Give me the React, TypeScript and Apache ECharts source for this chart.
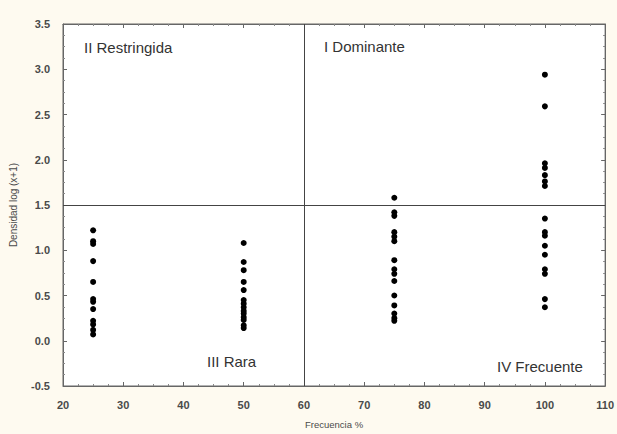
import React, { useEffect, useRef } from "react";
import * as echarts from "echarts";

const frec25: number[] = [1.22, 1.1, 1.07, 0.88, 0.65, 0.46, 0.43, 0.35, 0.22, 0.18, 0.12, 0.07];
const frec50: number[] = [1.08, 0.87, 0.78, 0.65, 0.56, 0.45, 0.41, 0.37, 0.33, 0.3, 0.26, 0.23, 0.17, 0.14];
const frec75: number[] = [1.58, 1.42, 1.38, 1.2, 1.15, 1.1, 0.89, 0.79, 0.74, 0.66, 0.5, 0.39, 0.3, 0.25, 0.22];
const frec100: number[] = [2.94, 2.59, 1.96, 1.91, 1.83, 1.76, 1.71, 1.35, 1.2, 1.16, 1.05, 0.95, 0.79, 0.74, 0.46, 0.37];
const frecuencias: number[] = [25, 50, 75, 100];
const quadrantLabels: string[] = ["II Restringida", "I Dominante", "III Rara", "IV Frecuente"];
const xTitle = "Frecuencia %";
const yTitle = "Densidad log (x+1)";
const xSplit = 60;
const ySplit = 1.5;

export default function App() {
  const ref = useRef<HTMLDivElement>(null);
  useEffect(() => {
    document.body.style.margin = "0";
    const chart = echarts.init(ref.current!, undefined, { renderer: "svg" });
    const groups = [frec25, frec50, frec75, frec100];
    const points: number[][] = [];
    groups.forEach((g, i) => g.forEach((v) => points.push([frecuencias[i], v])));
    const labelColor = "#4a4a4a";
    const font = "Liberation Sans, Arial, sans-serif";
    const axisCommon = {
      axisLine: { show: true, onZero: false, lineStyle: { color: "#666", width: 1 } },
      axisTick: { show: true, inside: true, length: 4, lineStyle: { color: "#666" } },
      minorTick: { show: true, splitNumber: 4, length: 2, lineStyle: { color: "#888" } },
      splitLine: { show: false },
    };
    const qStyle = { fill: "#333", fontSize: 15, fontFamily: font };
    chart.setOption({
      animation: false,
      backgroundColor: "#fefaf0",
      grid: {
        left: 63, top: 24, right: 9, bottom: 46,
        show: true, backgroundColor: "#ffffff", borderColor: "#666", borderWidth: 1,
      },
      xAxis: [
        {
          type: "value", min: 20, max: 110, interval: 10, position: "bottom",
          name: xTitle, nameLocation: "middle", nameGap: 33,
          nameTextStyle: { color: labelColor, fontSize: 9.5, fontFamily: font },
          axisLabel: { color: labelColor, fontSize: 11, fontWeight: "bold", margin: 13, fontFamily: font },
          ...axisCommon,
        },
        {
          type: "value", min: 20, max: 110, interval: 10, position: "top",
          axisLabel: { show: false },
          ...axisCommon,
        },
      ],
      yAxis: [
        {
          type: "value", min: -0.5, max: 3.5, interval: 0.5, position: "left",
          name: yTitle, nameLocation: "middle", nameGap: 45, nameRotate: 90,
          nameTextStyle: { color: labelColor, fontSize: 10, fontFamily: font },
          axisLabel: {
            color: labelColor, fontSize: 11, fontWeight: "bold", margin: 13, fontFamily: font,
            formatter: (v: number) => v.toFixed(1),
          },
          ...axisCommon,
        },
        {
          type: "value", min: -0.5, max: 3.5, interval: 0.5, position: "right",
          axisLabel: { show: false },
          ...axisCommon,
        },
      ],
      series: [
        {
          type: "scatter",
          data: points,
          symbol: "circle",
          symbolSize: 6,
          itemStyle: { color: "#000", opacity: 1 },
          markLine: {
            silent: true,
            symbol: "none",
            label: { show: false },
            lineStyle: { color: "#444", width: 1, type: "solid" },
            data: [{ xAxis: xSplit }, { yAxis: ySplit }],
          },
        },
      ],
      graphic: [
        { type: "text", left: 84, top: 40, style: { text: quadrantLabels[0], ...qStyle } },
        { type: "text", left: 324, top: 39, style: { text: quadrantLabels[1], ...qStyle } },
        { type: "text", left: 207, top: 354, style: { text: quadrantLabels[2], ...qStyle } },
        { type: "text", left: 497, top: 359, style: { text: quadrantLabels[3], ...qStyle } },
      ],
    });
    return () => chart.dispose();
  }, []);
  return <div ref={ref} style={{ width: 617, height: 434 }} />;
}
